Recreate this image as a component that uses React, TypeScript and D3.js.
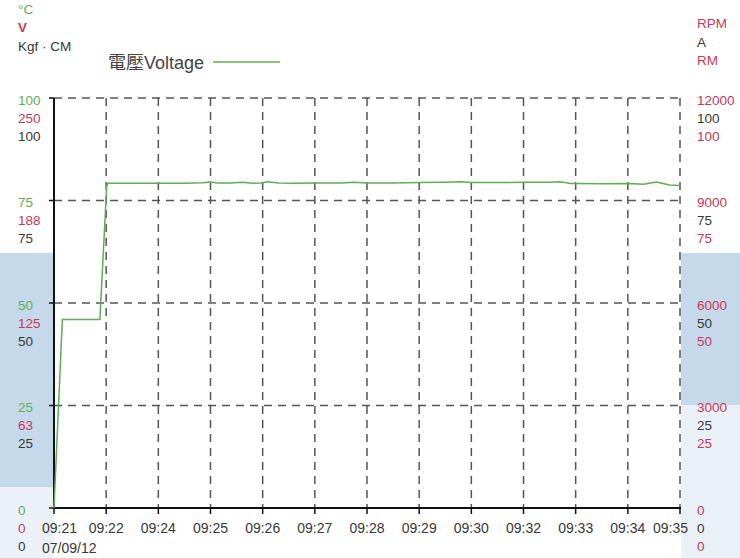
import React from "react";
import * as d3 from "d3";

const timeLabels = ["09:21", "09:22", "09:24", "09:25", "09:26", "09:27", "09:28", "09:29", "09:30", "09:32", "09:33", "09:34", "09:35"];
const dateLabel = "07/09/12";

// voltage series: [x position in label-index units, volts]
const voltagePoints: [number, number][] = [
  [0, 0], [0.16, 115], [0.88, 115], [1.01, 196], [1.03, 198],
  [1.5, 198], [2.0, 198], [2.5, 198], [2.85, 198.3], [3.0, 198.8], [3.15, 198.1],
  [3.4, 198.2], [3.6, 198.7], [3.8, 198.0], [3.95, 198.2], [4.1, 198.9], [4.3, 198.2],
  [4.6, 198.0], [5.0, 198.1], [5.5, 198.2], [5.75, 198.6], [6.0, 198.2], [6.5, 198.2],
  [7.0, 198.4], [7.5, 198.6], [7.8, 198.9], [8.0, 198.5], [8.5, 198.5], [9.0, 198.6],
  [9.5, 198.6], [9.7, 198.9], [9.9, 197.8], [10.0, 197.8], [10.5, 197.7], [11.0, 197.8],
  [11.3, 197.4], [11.55, 198.7], [11.8, 197.0], [12.0, 196.6],
];

const leftTempTicks = [0, 25, 50, 75, 100];
const leftVoltTicks = [0, 63, 125, 188, 250];
const leftTorqueTicks = [0, 25, 50, 75, 100];
const rightRpmTicks = [0, 3000, 6000, 9000, 12000];
const rightAmpTicks = [0, 25, 50, 75, 100];
const rightRmTicks = [0, 25, 50, 75, 100];

const GREEN = "#5fae55";
const RED = "#c8375c";
const DARK = "#383838";
const FONT = "Liberation Sans, Arial, sans-serif";

export default function App() {
  const W = 740, H = 558;
  const left = 54, right = 680, top = 98, bottom = 508;
  const x = d3.scaleLinear().domain([0, timeLabels.length - 1]).range([left, right]);
  const yV = d3.scaleLinear().domain([0, 250]).range([bottom, top]);
  const yT = d3.scaleLinear().domain([0, 100]).range([bottom, top]);
  const line = d3.line<[number, number]>().x(d => x(d[0])).y(d => yV(d[1])).curve(d3.curveLinear);
  const fs = 13.5;

  return (
    <div style={{ position: "fixed", left: 0, top: 0 }}>
      <svg width={W} height={H} style={{ display: "block", fontFamily: FONT }}>
        <rect x={0} y={0} width={W} height={H} fill="#ffffff" />
        {/* side bands */}
        <rect x={0} y={253} width={left} height={234} fill="#c5d9ea" />
        <rect x={0} y={487} width={left} height={H - 487} fill="#ebf1f7" />
        <rect x={right + 1} y={253} width={W - right - 1} height={152} fill="#c5d9ea" />
        <rect x={right + 1} y={405} width={W - right - 1} height={H - 405} fill="#e9f0f6" />

        {/* grid */}
        {leftTempTicks.map(t => (
          <line key={"h" + t} x1={left} x2={right} y1={yT(t)} y2={yT(t)} stroke="#555" strokeWidth={1.5} strokeDasharray="8,6" />
        ))}
        {timeLabels.map((_, i) => i > 0 ? (
          <line key={"v" + i} x1={x(i)} x2={x(i)} y1={top} y2={bottom} stroke="#555" strokeWidth={1.5} strokeDasharray="8,6" />
        ) : null)}

        {/* axes */}
        <line x1={left} x2={left} y1={top} y2={bottom + 1} stroke="#111" strokeWidth={2} />
        <line x1={left - 1} x2={right + 1} y1={bottom} y2={bottom} stroke="#111" strokeWidth={2} />
        {leftTempTicks.map(t => (
          <line key={"lt" + t} x1={left - 5} x2={left} y1={yT(t)} y2={yT(t)} stroke="#111" strokeWidth={1.5} />
        ))}
        {timeLabels.map((_, i) => (
          <line key={"bt" + i} x1={x(i)} x2={x(i)} y1={bottom} y2={bottom + 6} stroke="#111" strokeWidth={1.5} />
        ))}

        {/* voltage line */}
        <path d={line(voltagePoints) || ""} fill="none" stroke={GREEN} strokeWidth={1.5} />

        {/* left tick labels */}
        {leftTempTicks.map((t, i) => (
          <g key={"ll" + i} fontSize={fs}>
            <text x={18} y={yT(t) + 2} dy="0.35em" fill={GREEN}>{t}</text>
            <text x={18} y={yT(t) + 20} dy="0.35em" fill={RED}>{leftVoltTicks[i]}</text>
            <text x={18} y={yT(t) + 38} dy="0.35em" fill={DARK}>{leftTorqueTicks[i]}</text>
          </g>
        ))}

        {/* right tick labels */}
        {rightRpmTicks.map((t, i) => (
          <g key={"rl" + i} fontSize={fs}>
            <text x={697} y={yT(rightAmpTicks[i]) + 2} dy="0.35em" fill={RED}>{t}</text>
            <text x={697} y={yT(rightAmpTicks[i]) + 20} dy="0.35em" fill={DARK}>{rightAmpTicks[i]}</text>
            <text x={697} y={yT(rightAmpTicks[i]) + 38} dy="0.35em" fill={RED}>{rightRmTicks[i]}</text>
          </g>
        ))}

        {/* x labels */}
        {timeLabels.map((l, i) => {
          const anchor = i === 0 ? "start" : i === timeLabels.length - 1 ? "end" : "middle";
          const xx = i === 0 ? x(i) - 12 : i === timeLabels.length - 1 ? x(i) + 8 : x(i);
          return <text key={"xl" + i} x={xx} y={528} dy="0.35em" fontSize={14} fill={DARK} textAnchor={anchor}>{l}</text>;
        })}
        <text x={42} y={548} dy="0.35em" fontSize={14} fill={DARK}>{dateLabel}</text>

        {/* unit labels */}
        <text x={18} y={9} dy="0.35em" fontSize={fs} fill={GREEN}>°C</text>
        <text x={18} y={27} dy="0.35em" fontSize={fs} fill={RED} fontWeight="bold">V</text>
        <text x={18} y={46} dy="0.35em" fontSize={fs} fill={DARK}>Kgf · CM</text>
        <text x={697} y={23} dy="0.35em" fontSize={fs} fill={RED}>RPM</text>
        <text x={697} y={42} dy="0.35em" fontSize={fs} fill={DARK}>A</text>
        <text x={697} y={60} dy="0.35em" fontSize={fs} fill={RED}>RM</text>

        {/* legend */}
        <text x={108} y={63} dy="0.35em" fontSize={18} fill="#444" fontFamily="'Noto Sans CJK TC', Liberation Sans, sans-serif">電壓<tspan fontFamily={FONT}>Voltage</tspan></text>
        <line x1={213} x2={280} y1={62} y2={62} stroke={GREEN} strokeWidth={1.5} />
      </svg>
    </div>
  );
}
